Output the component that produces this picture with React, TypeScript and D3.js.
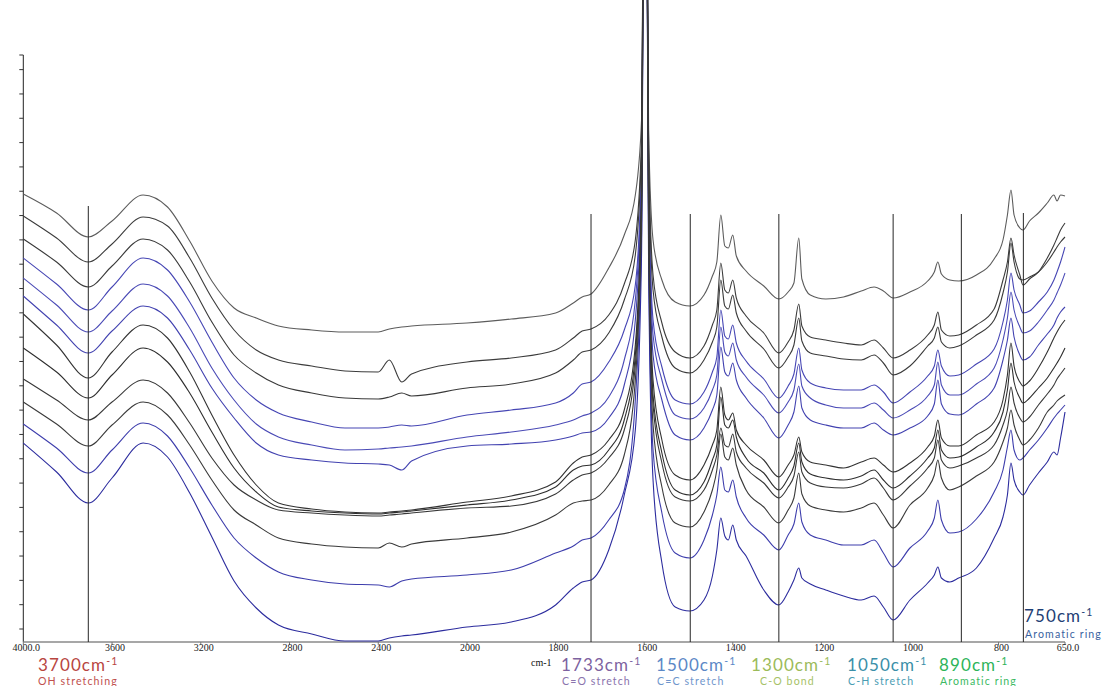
import * as d3 from 'd3';

// wavenumber grid (cm-1) shared by every spectrum
const wavenumbers = [
  4000, 3850, 3707, 3600, 3460, 3350, 3250, 3150, 3050, 2950, 2850, 2700, 2550, 2400, 2350, 2294, 2250, 2000,
  1900, 1800, 1760, 1740, 1720, 1680, 1645, 1620, 1606, 1598, 1590, 1580, 1560, 1530, 1497, 1465, 1446, 1436,
  1427, 1418, 1410, 1400, 1392, 1370, 1330, 1296, 1275, 1262, 1251, 1244, 1225, 1190, 1150, 1110, 1081, 1060,
  1038, 1000, 960, 945, 937, 929, 910, 890, 850, 810, 790, 780, 772, 765, 752, 745, 730, 710, 690, 675, 668,
  660, 650,
];

// stacked absorbance spectra (offset, arbitrary units), top to bottom
const trace01 = [
  448, 429, 405, 421, 447, 435, 401, 361, 334, 324, 316, 312, 310, 310, 313, 315, 316, 319,
  323, 329, 339, 345, 348, 374, 407, 447, 522, 1022, 512, 402, 362, 340, 336, 347, 366, 380, 427, 396, 394, 407,
  386, 371, 356, 343, 350, 359, 404, 363, 347, 343, 345, 351, 355, 351, 344, 350, 361, 370, 380, 368, 362, 361,
  367, 383, 402, 427, 452, 427, 414, 412, 421, 429, 439, 447, 441, 447, 446,
];
const trace02 = [
  426, 404, 380, 398, 425, 416, 384, 344, 312, 292, 282, 276, 271, 270, 282, 260, 268, 280,
  284, 292, 304, 311, 313, 327, 358, 402, 502, 1022, 492, 367, 319, 290, 284, 296, 317, 332, 379, 352, 349, 362,
  344, 326, 309, 289, 300, 312, 338, 316, 305, 302, 299, 297, 302, 294, 284, 292, 307, 317, 330, 312, 306, 307,
  317, 333, 362, 380, 404, 387, 367, 357, 363, 370, 384, 397, 404, 412, 419,
];
const trace03 = [
  403, 380, 355, 376, 403, 392, 360, 320, 287, 269, 257, 249, 244, 243, 245, 249, 246, 254,
  258, 269, 282, 290, 292, 309, 342, 387, 492, 1022, 482, 352, 305, 274, 269, 282, 300, 315, 362, 336, 333, 347,
  329, 311, 293, 274, 285, 297, 324, 301, 289, 286, 283, 282, 287, 279, 267, 276, 296, 304, 315, 300, 294, 296,
  307, 322, 349, 370, 399, 380, 363, 362, 365, 370, 380, 390, 395, 400, 405,
];
const trace04 = [
  384, 358, 332, 355, 384, 372, 340, 300, 264, 242, 229, 220, 214, 214, 215, 217, 216, 227,
  232, 239, 249, 258, 260, 280, 312, 357, 477, 1022, 467, 322, 275, 242, 238, 250, 270, 285, 332, 306, 303, 317,
  299, 281, 263, 244, 256, 268, 294, 272, 259, 254, 252, 252, 257, 250, 239, 250, 266, 276, 292, 276, 266, 267,
  278, 293, 320, 342, 369, 352, 337, 329, 331, 340, 350, 362, 370, 380, 395,
];
const trace05 = [
  364, 337, 310, 331, 358, 346, 314, 274, 242, 218, 205, 197, 192, 193, 194, 195, 196, 205,
  210, 217, 222, 226, 229, 245, 282, 342, 467, 1022, 457, 307, 262, 227, 223, 234, 252, 267, 315, 290, 286, 299,
  282, 265, 247, 229, 240, 252, 278, 256, 244, 237, 234, 234, 239, 232, 224, 232, 246, 257, 280, 257, 247, 247,
  258, 274, 302, 324, 350, 332, 315, 309, 311, 320, 332, 342, 349, 357, 369,
];
const trace06 = [
  346, 317, 289, 311, 336, 324, 292, 254, 224, 199, 187, 182, 179, 178, 177, 172, 181, 196,
  198, 202, 206, 209, 210, 224, 257, 322, 457, 1022, 447, 287, 242, 207, 202, 214, 232, 247, 295, 270, 266, 279,
  262, 244, 224, 204, 217, 230, 256, 234, 222, 217, 214, 214, 219, 212, 207, 214, 226, 238, 262, 238, 228, 227,
  238, 254, 282, 302, 324, 305, 287, 282, 285, 297, 308, 317, 324, 330, 335,
];
const trace07 = [
  328, 297, 264, 290, 317, 304, 270, 227, 187, 157, 139, 133, 130, 129, 130, 131, 132, 140,
  146, 160, 179, 185, 187, 202, 232, 297, 447, 1022, 437, 262, 202, 167, 162, 177, 197, 212, 255, 227, 222, 229,
  212, 197, 182, 165, 177, 187, 205, 190, 180, 177, 174, 180, 184, 177, 170, 179, 195, 206, 222, 204, 196, 196,
  207, 220, 242, 267, 299, 276, 260, 256, 261, 274, 290, 304, 310, 316, 322,
];
const trace08 = [
  294, 270, 244, 267, 294, 280, 249, 210, 174, 150, 135, 131, 129, 128, 129, 130, 131, 137,
  142, 155, 172, 176, 177, 192, 222, 287, 442, 1022, 427, 247, 189, 152, 147, 160, 182, 197, 245, 217, 214, 222,
  205, 184, 169, 152, 164, 176, 199, 180, 168, 164, 162, 166, 172, 162, 154, 166, 184, 194, 212, 192, 184, 185,
  195, 210, 230, 252, 279, 260, 244, 239, 244, 254, 264, 274, 279, 285, 294,
];
const trace09 = [
  263, 242, 222, 240, 262, 249, 219, 184, 157, 142, 132, 129, 127, 126, 127, 128, 129, 134,
  136, 148, 162, 167, 169, 184, 212, 277, 432, 1022, 417, 237, 179, 145, 141, 152, 172, 187, 214, 197, 195, 208,
  190, 174, 159, 144, 155, 166, 190, 170, 159, 155, 154, 158, 164, 154, 142, 156, 174, 184, 202, 182, 174, 176,
  184, 197, 217, 232, 255, 239, 224, 220, 225, 237, 248, 257, 263, 268, 274,
];
const trace10 = [
  240, 218, 196, 217, 240, 227, 197, 162, 132, 117, 104, 98, 95, 94, 99, 95, 98, 104,
  110, 127, 139, 141, 142, 157, 187, 262, 422, 1022, 407, 217, 155, 119, 115, 130, 152, 172, 208, 185, 182, 194,
  177, 152, 135, 119, 132, 144, 169, 148, 136, 132, 130, 134, 139, 127, 114, 137, 154, 167, 182, 164, 152, 155,
  166, 180, 200, 214, 232, 217, 202, 197, 202, 214, 230, 237, 241, 244, 247,
];
const trace11 = [
  218, 194, 169, 192, 219, 206, 174, 137, 104, 84, 70, 62, 58, 57, 55, 61, 63, 67,
  72, 89, 96, 102, 104, 122, 152, 242, 407, 1022, 392, 192, 129, 89, 84, 102, 127, 147, 175, 152, 150, 162,
  145, 124, 107, 92, 107, 118, 139, 120, 107, 102, 97, 97, 102, 89, 75, 94, 111, 124, 142, 122, 109, 110,
  123, 150, 172, 195, 212, 192, 182, 184, 192, 202, 214, 224, 228, 232, 237,
];
const trace12 = [
  199, 170, 139, 164, 199, 185, 149, 105, 61, 34, 17, 8, 1, 1, 4, 6, 7, 15,
  20, 37, 54, 60, 62, 92, 147, 212, 387, 1022, 372, 162, 79, 35, 31, 42, 66, 92, 124, 106, 102, 117,
  102, 86, 52, 37, 50, 62, 74, 64, 58, 52, 46, 42, 46, 35, 22, 42, 59, 67, 75, 64, 60, 64,
  74, 104, 125, 147, 179, 162, 150, 147, 157, 169, 180, 190, 187, 204, 230,
];

const traces = [trace01, trace02, trace03, trace04, trace05, trace06, trace07, trace08, trace09, trace10, trace11, trace12];
const traceColors = [
  '#5c5c5c', '#3c3c3c', '#3a3a3a', '#4646b4', '#4a4ab6', '#4242b0',
  '#333333', '#2e2e2e', '#383838', '#3a3a3a', '#3d3dac', '#2c2c9e',
];
const isBlue = [false, false, false, true, true, true, false, false, false, false, true, true];

const xTicks = [4000, 3600, 3200, 2800, 2400, 2000, 1800, 1600, 1400, 1200, 1000, 800, 650];
const xTickLabels = ['4000.0', '3600', '3200', '2800', '2400', '2000', '1800', '1600', '1400', '1200', '1000', '800', '650.0'];

// band markers: where the line sits, what the label says
const markerWavenumbers = [3707, 1720, 1496, 1296, 1038, 884, 744];
const markerTops = [436, 428, 428, 428, 428, 428, 429];
const markerLabels = ['3700', '1733', '1500', '1300', '1050', '890', '750'];
const markerNotes = ['OH stretching', 'C=O stretch', 'C=C stretch', 'C-O bond', 'C-H stretch', 'Aromatic ring', 'Aromatic ring'];

const labelColors = ['#b8453f', '#7d62a0', '#5b88c6', '#9bbb59', '#3a8fa8', '#2db45a', '#1f3f75'];
const noteColors = ['#c0504d', '#8a73ad', '#6f96cc', '#a6c266', '#4a9cb3', '#3cba63', '#3a63a0'];
const labelX = [38, 561, 656, 751, 847, 939, 1024];
const noteX = [38, 562, 657, 760, 848, 940, 1025];

export default function App() {
  const width = 1112;
  const height = 686;

  // the instrument axis is stretched 2x below 2000 cm-1
  const x = d3.scaleLinear().domain([4000, 2000, 650]).range([23.3, 467, 1065]);
  const y = d3.scaleLinear().domain([0, 587]).range([642, 55]);

  const line = d3
    .line<number>()
    .x((_, i) => x(wavenumbers[i]))
    .y((d) => y(d))
    .curve(d3.curveMonotoneX);

  const yTicks = d3.range(24).map((i) => 13 + i * 24.32);
  const sans = "Lato, 'Open Sans', sans-serif";
  const serif = "'Liberation Serif', 'DejaVu Serif', serif";

  // blue traces under the grey ones, as in the original export
  const order = d3.range(traces.length).sort((a, b) => Number(isBlue[b]) - Number(isBlue[a]));

  return (
    <svg
      width={width}
      height={height}
      style={{ position: 'absolute', left: 0, top: 0, background: '#fff' }}
    >
      {/* y axis */}
      <line x1={x(4000)} x2={x(4000)} y1={y(587)} y2={y(0)} stroke="#222" strokeWidth={1} />
      {[587, ...yTicks].map((t, i) => (
        <line key={i} x1={x(4000) - 4} x2={x(4000)} y1={y(t)} y2={y(t)} stroke="#333" strokeWidth={1} />
      ))}

      {/* x axis */}
      <line x1={x(4000)} x2={x(650)} y1={y(0)} y2={y(0)} stroke="#8a8a8a" strokeWidth={1.5} />
      {xTicks.map((t, i) => (
        <g key={t}>
          <line x1={x(t)} x2={x(t)} y1={y(0)} y2={y(0) + 3} stroke="#777" strokeWidth={1} />
          <text
            x={x(t) + 3}
            y={651.2}
            textAnchor="middle"
            fontFamily={serif}
            fontSize={10}
            fill="#222"
          >
            {xTickLabels[i]}
          </text>
        </g>
      ))}
      <text x={531} y={666} fontFamily={serif} fontSize={10} fill="#111">
        cm-1
      </text>

      {/* spectra */}
      {order.map((i) => (
        <path key={i} d={line(traces[i]) || ''} fill="none" stroke={traceColors[i]} strokeWidth={1.1} />
      ))}

      {/* band markers */}
      {markerWavenumbers.map((w, i) => (
        <line
          key={w}
          x1={x(w)}
          x2={x(w)}
          y1={y(markerTops[i])}
          y2={y(0)}
          stroke="#262626"
          strokeWidth={1}
        />
      ))}

      {markerLabels.map((lab, i) => {
        const last = i === markerLabels.length - 1;
        const ly = last ? 622 : 670.5;
        const ny = last ? 637.5 : 684.6;
        return (
          <g key={lab}>
            <text
              x={labelX[i]}
              y={ly}
              fontFamily={sans}
              fontSize={17}
              letterSpacing={1.1}
              fill={labelColors[i]}
            >
              {lab}cm
              <tspan fontSize={10.5} dy={-6}>
                -1
              </tspan>
            </text>
            <text
              x={noteX[i]}
              y={ny}
              fontFamily={sans}
              fontSize={10.6}
              letterSpacing={1.1}
              fill={noteColors[i]}
            >
              {markerNotes[i]}
            </text>
          </g>
        );
      })}
    </svg>
  );
}
